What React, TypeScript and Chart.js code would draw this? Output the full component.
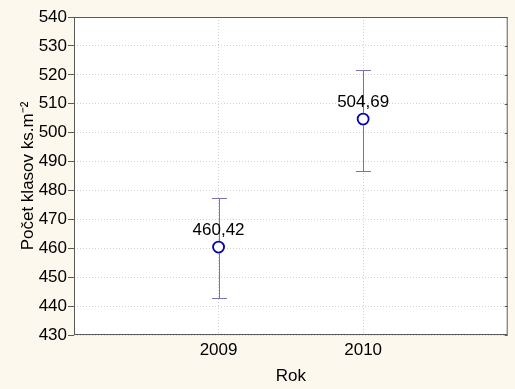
import React, { useEffect, useRef } from "react";
import { Chart, registerables } from "chart.js";

Chart.register(...registerables);

const years = [2009, 2010];
const means = [460.42, 504.69];
const lowerBounds = [442.8, 486.7];
const upperBounds = [477.5, 521.5];
const valueLabels = ["460,42", "504,69"];
const yTicks = [430, 440, 450, 460, 470, 480, 490, 500, 510, 520, 530, 540];

const FONT = "'Liberation Sans', Arial, sans-serif";

const framePlugin = {
  id: "framePlugin",
  beforeDraw(chart: any) {
    const { ctx, chartArea: a } = chart;
    ctx.save();
    ctx.fillStyle = "#fcf8ee";
    ctx.fillRect(0, 0, chart.width, chart.height);
    ctx.fillStyle = "#ffffff";
    ctx.fillRect(a.left, a.top, a.right - a.left, a.bottom - a.top);
    ctx.restore();
  },
  afterDatasetsDraw(chart: any) {
    const { ctx, chartArea: a, scales } = chart;
    const xs = scales.x;
    const ys = scales.y;
    ctx.save();
    // error bars
    ctx.strokeStyle = "#7676aa";
    ctx.lineWidth = 1;
    years.forEach((yr, i) => {
      const px = Math.round(xs.getPixelForValue(yr)) + 0.5;
      const pLo = Math.round(ys.getPixelForValue(lowerBounds[i])) + 0.5;
      const pHi = Math.round(ys.getPixelForValue(upperBounds[i])) + 0.5;
      const pm = ys.getPixelForValue(means[i]);
      ctx.beginPath();
      ctx.moveTo(px, pHi);
      ctx.lineTo(px, pm - 6);
      ctx.moveTo(px, pm + 6);
      ctx.lineTo(px, pLo);
      ctx.moveTo(px - 7.5, pHi);
      ctx.lineTo(px + 7.5, pHi);
      ctx.moveTo(px - 7.5, pLo);
      ctx.lineTo(px + 7.5, pLo);
      ctx.stroke();
    });
    // value labels
    ctx.fillStyle = "#000000";
    ctx.font = "17px " + FONT;
    ctx.textAlign = "center";
    ctx.textBaseline = "bottom";
    years.forEach((yr, i) => {
      const px = xs.getPixelForValue(yr);
      const pm = ys.getPixelForValue(means[i]);
      ctx.fillText(valueLabels[i], px, pm - 8);
    });
    // frame
    ctx.strokeStyle = "#5a5a5a";
    ctx.lineWidth = 1;
    ctx.strokeRect(a.left + 0.5, a.top + 0.5, a.right - a.left - 1, a.bottom - a.top - 1);
    // inner ticks on right edge
    ctx.beginPath();
    yTicks.forEach((v) => {
      const py = Math.round(ys.getPixelForValue(v)) + 0.5;
      ctx.moveTo(a.right - 3, py);
      ctx.lineTo(a.right, py);
    });
    ctx.stroke();
    ctx.restore();
  },
};

export default function App() {
  const ref = useRef<HTMLCanvasElement | null>(null);
  useEffect(() => {
    if (!ref.current) return;
    const chart = new Chart(ref.current, {
      type: "scatter",
      data: {
        datasets: [
          {
            data: years.map((x, i) => ({ x, y: means[i] })),
            pointRadius: 5.5,
            pointHoverRadius: 5.5,
            pointBorderWidth: 1.8,
            borderColor: "#0000b4",
            backgroundColor: "#ffffff",
            pointBackgroundColor: "#ffffff",
            showLine: false,
          },
        ],
      },
      options: {
        animation: false,
        responsive: false,
        events: [],
        layout: { padding: { top: 17, right: 1, left: 0, bottom: 0 } },
        plugins: { legend: { display: false }, tooltip: { enabled: false } },
        scales: {
          x: {
            type: "linear",
            min: 2008,
            max: 2011,
            afterBuildTicks: (s: any) => {
              s.ticks = years.map((v) => ({ value: v }));
            },
            afterFit: (s: any) => {
              s.height = 54;
            },
            ticks: {
              color: "#000",
              font: { family: FONT, size: 17 },
              padding: 5,
              callback: (v: any) => String(v),
              maxRotation: 0,
            },
            grid: { color: "#d2d2d2", drawTicks: false, lineWidth: 1 },
            border: { display: false, dash: [1, 2] },
            title: {
              display: true,
              text: "Rok",
              color: "#000",
              font: { family: FONT, size: 17 },
              padding: { top: 0, bottom: 2 },
            },
          },
          y: {
            min: 430,
            max: 540,
            afterBuildTicks: (s: any) => {
              s.ticks = yTicks.map((v) => ({ value: v }));
            },
            afterFit: (s: any) => {
              s.width = 74;
            },
            ticks: {
              color: "#000",
              font: { family: FONT, size: 17 },
              padding: 1,
            },
            grid: { color: "#d2d2d2", tickColor: "#5a5a5a", tickLength: 6, lineWidth: 1, tickBorderDash: [] },
            border: { display: false, dash: [1, 2] },
            title: {
              display: true,
              text: "Počet klasov ks.m⁻²",
              color: "#000",
              font: { family: FONT, size: 17 },
              padding: { top: 18, bottom: 0 },
            },
          },
        },
      },
      plugins: [framePlugin],
    } as any);
    return () => chart.destroy();
  }, []);
  return (
    <div style={{ position: "absolute", left: 0, top: 0, width: 515, height: 389, background: "#fcf8ee" }}>
      <canvas ref={ref} width={515} height={389} />
    </div>
  );
}
